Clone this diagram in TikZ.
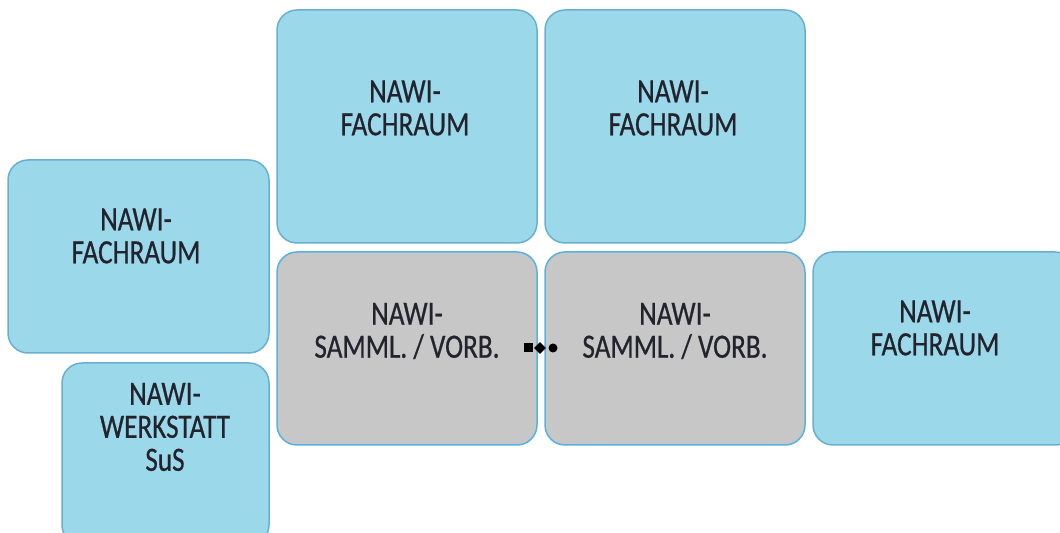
\documentclass[tikz,border=0pt]{standalone}
\usepackage{fontspec}
\newfontfamily\roomfont[FakeStretch=0.8, FakeBold=0.6]{Carlito}
\usetikzlibrary{positioning, shapes.geometric}
\definecolor{roomblue}{RGB}{155,216,234}
\definecolor{roomline}{RGB}{104,176,210}
\definecolor{storegray}{RGB}{199,199,199}
\definecolor{storeline}{RGB}{88,178,224}
\definecolor{roomtext}{RGB}{35,35,45}
\tikzset{
  room/.style={draw=roomline, fill=roomblue, line width=0.75pt, rounded corners=10pt, inner sep=0pt},
  store/.style={room, draw=storeline, fill=storegray},
  roomlabel/.style={align=center, text=roomtext, inner sep=0pt, font=\roomfont\fontsize{17}{16.5}\selectfont},
  dotmark/.style={fill=black, inner sep=0pt}
}

\begin{document}
\begin{tikzpicture}[x=0.5pt, y=-0.5pt]
	\useasboundingbox (0,0) rectangle (1060,533);
	\begin{scope}
		\clip (0,0) rectangle (1060,533);
		% rooms
		\node[room, minimum width=130pt, minimum height=116.5pt] at (407,126.5) (fachA) {};
		\node[room, minimum width=130pt, minimum height=116.5pt] at (675,126.5) (fachB) {};
		\node[room, minimum width=130.5pt, minimum height=96.5pt] at (138.5,256.5) (fachC) {};
		\node[room, minimum width=103.5pt, minimum height=91pt] at (165.5,454) (werk) {};
		\node[store, minimum width=130pt, minimum height=96.5pt] at (407,348.5) (sammA) {};
		\node[store, minimum width=130pt, minimum height=96.5pt] at (675,348.5) (sammB) {};
		\node[room, minimum width=131pt, minimum height=96.5pt] at (944,348.5) (fachD) {};
	\end{scope}

	% labels
	\node[roomlabel] at (405,108) (fachAtext) {NAWI-\\FACHRAUM};
	\node[roomlabel] at (673,108) (fachBtext) {NAWI-\\FACHRAUM};
	\node[roomlabel] at (136,236) (fachCtext) {NAWI-\\FACHRAUM};
	\node[roomlabel] at (165,427) (werktext) {NAWI-\\WERKSTATT\\SuS};
	\node[roomlabel] at (407,331) (sammAtext) {NAWI-\\SAMML. / VORB.};
	\node[roomlabel] at (675,331) (sammBtext) {NAWI-\\SAMML. / VORB.};
	\node[roomlabel] at (935,328) (fachDtext) {NAWI-\\FACHRAUM};

	% door marks
	\node[dotmark, rectangle, minimum size=4.5pt] at (528,348) (markA) {};
	\node[dotmark, diamond, minimum size=6pt] at (540,348) (markB) {};
	\node[dotmark, circle, minimum size=4.5pt] at (553,348) (markC) {};
\end{tikzpicture}
\end{document}
